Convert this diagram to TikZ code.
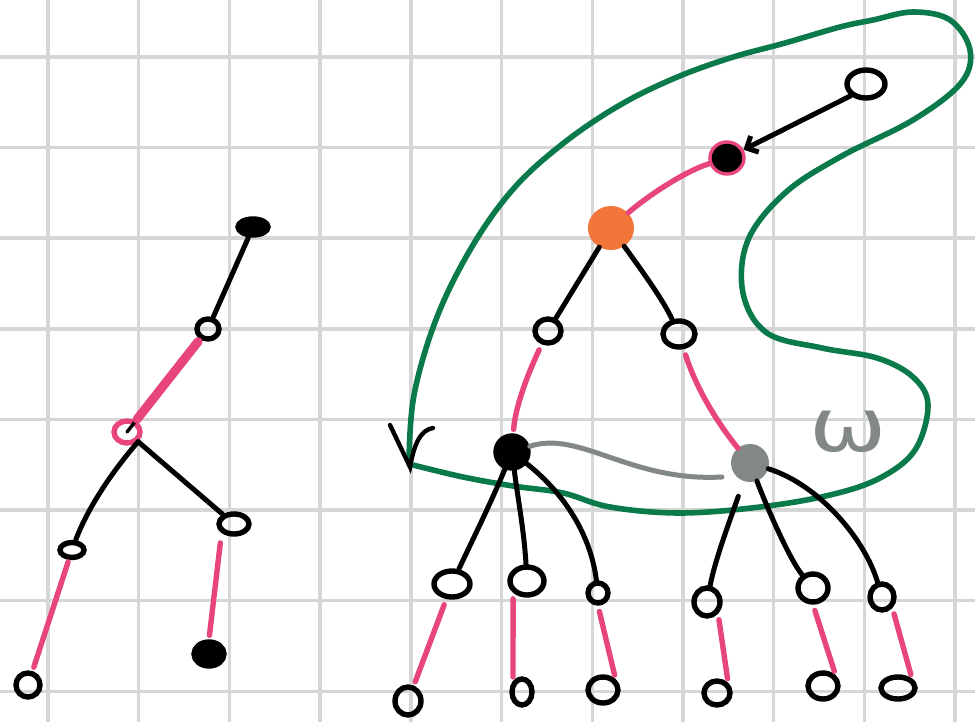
\documentclass[tikz,border=0pt]{standalone}
\usepackage{fontspec}
\newfontfamily\dejavu{DejaVu Sans}
\usetikzlibrary{shapes.geometric,arrows.meta}
\definecolor{pinkc}{RGB}{232,69,127}
\definecolor{greenc}{RGB}{10,122,74}
\definecolor{grayc}{RGB}{130,136,136}
\definecolor{orangec}{RGB}{242,117,58}
\definecolor{gridc}{RGB}{214,214,214}
\begin{document}
\begin{tikzpicture}[x=1pt,y=-1pt,
  nd/.style={ellipse,draw=black,line width=5.4pt,inner sep=0pt},
  fnd/.style={nd,fill=black},
  bl/.style={draw=black,line width=5pt,line cap=round},
  pk/.style={draw=pinkc,line width=5.4pt,line cap=round,shorten <=6pt,shorten >=4pt},
  gridline/.style={draw=gridc,line width=3.4pt},
  loop/.style={draw=greenc,line width=5.6pt,line cap=round,line join=round}]
\useasboundingbox (0,0) rectangle (975,722);
\fill[white] (0,0) rectangle (975,722);
% grid
\foreach \i in {0,...,10} \draw[gridline] ({48+90.7*\i},0) -- ({48+90.7*\i},722);
\foreach \j in {0,...,7} \draw[gridline] (0,{57+90.6*\j}) -- (975,{57+90.6*\j});
% green loop
\draw[loop] plot[smooth,tension=0.6] coordinates {(409,462) (414,395) (437,317) (473,245) (515,187) (565,142) (620,105) (675,78) (730,58) (785,43) (840,27) (873,20) (913,12) (950,20) (970,50) (961,83) (913,120) (840,157) (785,193) (748,240) (743,293) (767,333) (822,348) (877,358) (913,377) (928,405) (915,450) (880,478) (830,495) (760,507) (680,513) (610,507) (563,493) (513,486) (463,477) (413,465)};
% check mark
\draw[bl,line width=4.4pt] (390,425) -- (410,467) .. controls (414,445) and (420,430) .. (433,428);
% left tree nodes
\node[fnd,minimum width=30pt,minimum height=16pt] (L1) at (253,227) {};
\node[nd,minimum width=22pt,minimum height=20pt] (L2) at (208,329) {};
\node[nd,draw=pinkc,minimum width=26pt,minimum height=22pt] (L3) at (127,432) {};
\node[nd,minimum width=24pt,minimum height=15pt] (L4) at (72,550) {};
\node[nd,minimum width=30pt,minimum height=20pt] (L5) at (234,524) {};
\node[nd,minimum width=24pt,minimum height=24pt] (L6) at (28,685) {};
\node[fnd,minimum width=30pt,minimum height=24pt] (L7) at (209,654) {};
% right tree nodes
\node[nd,minimum width=38pt,minimum height=28pt] (R1) at (866,84) {};
\node[fnd,draw=pinkc,line width=3.4pt,minimum width=34pt,minimum height=32pt] (R2) at (727,158) {};
\node[ellipse,fill=orangec,inner sep=0pt,minimum width=46pt,minimum height=44pt] (R3) at (611,228) {};
\node[nd,minimum width=26pt,minimum height=24pt] (R4) at (548,331) {};
\node[nd,minimum width=32pt,minimum height=26pt] (R5) at (679,334) {};
\node[fnd,minimum width=32pt,minimum height=32pt] (R6) at (512,452) {};
\node[ellipse,fill=grayc,inner sep=0pt,minimum width=38pt,minimum height=38pt] (R7) at (750,463) {};
\node[nd,minimum width=36pt,minimum height=26pt] (A1) at (452,584) {};
\node[nd,minimum width=34pt,minimum height=28pt] (A2) at (527,581) {};
\node[nd,minimum width=20pt,minimum height=20pt] (A3) at (598,593) {};
\node[nd,minimum width=26pt,minimum height=28pt] (A4) at (707,602) {};
\node[nd,minimum width=30pt,minimum height=28pt] (A5) at (813,588) {};
\node[nd,minimum width=24pt,minimum height=26pt] (A6) at (882,597) {};
\node[nd,minimum width=26pt,minimum height=28pt] (B1) at (408,701) {};
\node[nd,minimum width=20pt,minimum height=26pt] (B2) at (522,692) {};
\node[nd,minimum width=30pt,minimum height=26pt] (B3) at (603,690) {};
\node[nd,minimum width=26pt,minimum height=24pt] (B4) at (717,693) {};
\node[nd,minimum width=30pt,minimum height=26pt] (B5) at (823,686) {};
\node[nd,minimum width=34pt,minimum height=22pt] (B6) at (898,688) {};
\coordinate (gEnd) at (722,477);
% omega
\node[text=grayc,font=\dejavu\fontsize{74}{74}\selectfont,xscale=1.25] (om) at (848,432) {ω};
% left tree edges
\draw[bl] (L1) -- (L2);
\draw[bl,line width=3.4pt] (L2) -- (L3.center);
\draw[draw=pinkc,line width=9pt,line cap=round,shorten <=3pt,shorten >=2pt] (L2) -- (L3);
\draw[bl] (L3.south east) .. controls (105,480) and (85,515) .. (L4);
\draw[bl] (L3.south east) -- (L5);
\draw[pk,shorten <=2pt] (L4) -- (L6);
\draw[pk,shorten <=10pt] (L5.south west) -- (L7.north);
% right tree edges
\draw[bl,-{Straight Barb[length=9pt,width=18pt]}] (R1.south west) -- (R2);
\draw[pk,shorten <=0pt,shorten >=0pt] (R2) .. controls (683,172) and (645,198) .. (R3);
\draw[bl] (R3) -- (R4);
\draw[bl] (R3) .. controls (645,275) and (663,300) .. (R5);
\draw[pk] (R4) .. controls (525,380) and (515,410) .. (R6);
\draw[pk,shorten >=0pt] (R5) .. controls (695,385) and (715,420) .. (R7);
\draw[draw=grayc,line width=5pt,line cap=round] (R6) .. controls (580,430) and (630,482) .. (gEnd);
\draw[bl] (R6) .. controls (490,505) and (470,545) .. (A1);
\draw[bl] (R6) .. controls (518,500) and (524,530) .. (A2);
\draw[bl] (R6) .. controls (560,490) and (590,530) .. (A3);
\draw[bl,shorten <=16pt] (R7) .. controls (730,520) and (715,560) .. (A4);
\draw[bl] (R7) .. controls (768,510) and (790,560) .. (A5);
\draw[bl] (R7) .. controls (820,485) and (865,540) .. (A6);
\draw[pk] (A1) -- (B1);
\draw[pk] (A2.south west) -- (B2.north west);
\draw[pk] (A3.south) -- (B3.north east);
\draw[pk] (A4.south east) -- (B4.north east);
\draw[pk] (A5.south) -- (B5.north east);
\draw[pk] (A6.south east) -- (B6.north east);
\end{tikzpicture}
\end{document}
